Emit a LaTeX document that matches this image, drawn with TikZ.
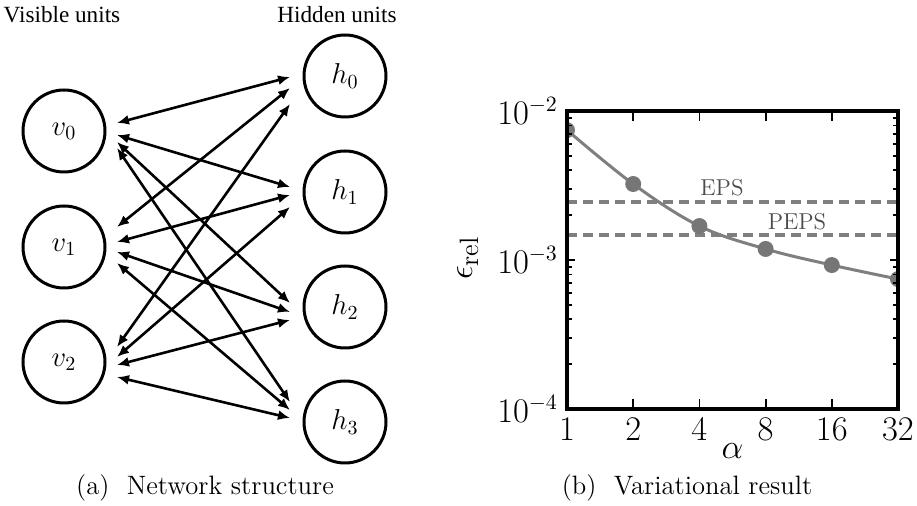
\documentclass[tikz,border=0pt]{standalone}
\usepackage{fontspec}
\newfontfamily\tnr{Liberation Serif}
\usepackage{tikz}
\usetikzlibrary{arrows.meta}
\definecolor{cLine}{HTML}{7f7f7f}
\definecolor{cMark}{HTML}{767676}
\tikzset{
  unit/.style={circle,draw,line width=1.5pt,minimum size=41pt,inner sep=0pt,
               font=\fontsize{14}{16}\selectfont},
  link/.style={<->,line width=1.3pt,>={Latex[length=6pt,width=5pt]}},
  grp/.style ={font=\tnr\fontsize{11.6}{14}\selectfont},
  capt/.style={font=\fontsize{13.3}{16}\selectfont},
  tlab/.style={font=\fontsize{16}{19}\selectfont},
  rlab/.style={font=\fontsize{11.5}{14}\selectfont,cLine!60!black},
  frame/.style={line width=2pt},
  tck/.style ={line width=0.9pt},
  ref/.style ={cLine,line width=2pt,dash pattern=on 5pt off 3pt},
  fitc/.style={cLine,line width=1.5pt},
  dot/.style ={circle,fill=cMark,inner sep=0pt,minimum size=8pt},
}
\begin{document}
\begin{tikzpicture}[x=0.5pt,y=-0.5pt]
  \useasboundingbox (0,0) rectangle (917,506);
  \node[grp] (vis) at (62,15) {Visible units};
  \node[grp] (hid) at (337,15) {Hidden units};
  \foreach \i/\y in {0/131,1/247,2/362}
    \node[unit] (v\i) at (64,\y) {$v_{\i}$};
  \foreach \j/\y in {0/76,1/192,2/307,3/422}
    \node[unit] (h\j) at (345,\y) {$h_{\j}$};
  \foreach \i/\j/\a/\b in {0/0/-8/1, 0/1/4/-5, 0/2/11/-4, 0/3/17/-20,
                           1/0/-20/12, 1/1/-5/3, 1/2/5/5, 1/3/16/-12,
                           2/0/-15/28, 2/1/-5/15, 2/2/3/13, 2/3/15/-4}
    \draw[link] ([shift={(53,\a)}]v\i.center) -- ([shift={(-55,\b)}]h\j.center);
  \node[capt] (capa) at (205,488) {(a)~~Network structure};
  \begin{scope}[shift={(567,409)},x=33.1pt,y=74.5pt]
    \begin{scope}
      \clip (0,0) rectangle (5,2);
      \draw[ref] (0,1.389) -- (5,1.389);
      \draw[ref] (0,1.168) -- (5,1.168);
      \draw[fitc] plot[smooth,tension=0.6] coordinates
        {(0,1.872) (1,1.510) (2,1.228) (3,1.074) (4,0.966) (5,0.872)};
      \foreach \x/\y in {0/1.872,1/1.510,2/1.228,3/1.074,4/0.966,5/0.872}
        \node[dot] (p\x) at (\x,\y) {};
    \end{scope}
    \foreach \x in {1,...,4} {
      \draw[tck] (\x,0) -- ++(0pt,5pt);
      \draw[tck] (\x,2) -- ++(0pt,-5pt);
    }
    \foreach \d in {0,1} \foreach \k in {2,...,9} {
      \draw[tck] (0,{\d+log10(\k)}) -- ++(2.5pt,0pt);
      \draw[tck] (5,{\d+log10(\k)}) -- ++(-2.5pt,0pt);
    }
    \draw[tck] (0,1) -- ++(4pt,0pt);
    \draw[tck] (5,1) -- ++(-4pt,0pt);
    \draw[frame] (0,0) rectangle (5,2);
    \foreach \x/\t in {0/1,1/2,2/4,3/8,4/16,5/32}
      \node[tlab,below=1pt] (xl\x) at (\x,0) {$\t$};
    \foreach \y/\t in {0/-4,1/-3,2/-2}
      \node[tlab,left=1pt] (yl\y) at (0,\y) {$10^{\t}$};
    \node[font=\fontsize{17}{20}\selectfont] (alab) at (2.5,-0.28) {$\alpha$};
    \node[font=\fontsize{19}{22}\selectfont,rotate=90] (elab) at (-1.495,1.013)
      {$\epsilon_{\mathrm{rel}}$};
    \node[rlab] (eps) at (2.341,1.483) {EPS};
    \node[rlab] (peps) at (3.474,1.255) {PEPS};
  \end{scope}
  \node[capt] (capb) at (687,488) {(b)~~Variational result};
\end{tikzpicture}
\end{document}
